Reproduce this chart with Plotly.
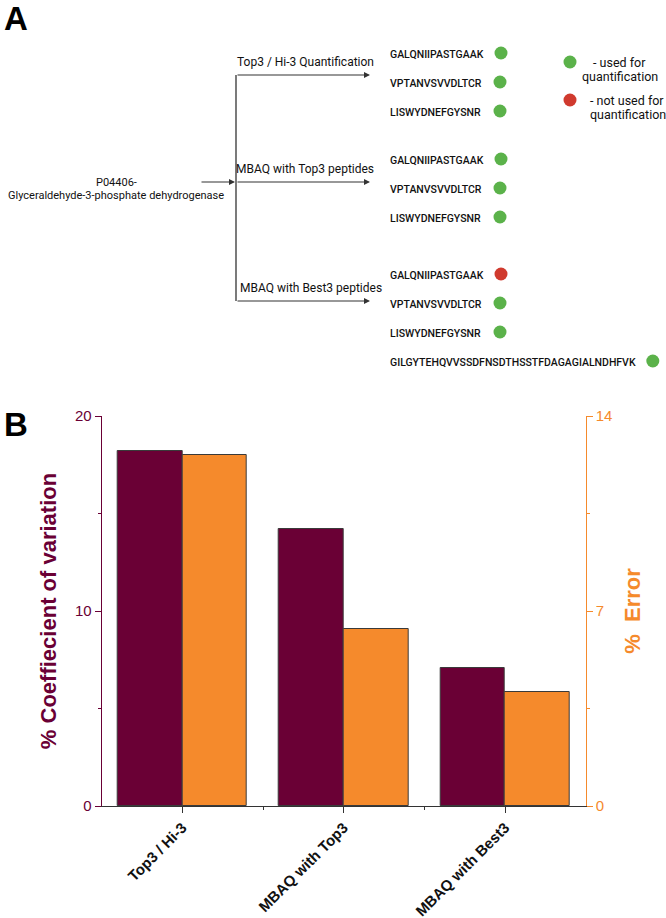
import plotly.graph_objects as go

# panel B data
categories = ["Top3 / Hi-3", "MBAQ with Top3", "MBAQ with Best3"]
cv_values = [18.2, 14.2, 7.1]
error_values = [12.6, 6.35, 4.1]

# panel A data
protein = ["P04406-", "Glyceraldehyde-3-phosphate dehydrogenase"]
methods = ["Top3 / Hi-3 Quantification", "MBAQ with Top3 peptides", "MBAQ with Best3 peptides"]
peptides = [
    ["GALQNIIPASTGAAK", "VPTANVSVVDLTCR", "LISWYDNEFGYSNR"],
    ["GALQNIIPASTGAAK", "VPTANVSVVDLTCR", "LISWYDNEFGYSNR"],
    ["GALQNIIPASTGAAK", "VPTANVSVVDLTCR", "LISWYDNEFGYSNR",
     "GILGYTEHQVVSSDFNSDTHSSTFDAGAGIALNDHFVK"],
]
used = [[1, 1, 1], [1, 1, 1], [0, 1, 1, 1]]
legend_labels = [["- used for", "quantification"], ["- not used for", "quantification"]]

MAROON = "#6A0035"
ORANGE = "#F58A2C"
GREEN = "#5BB24A"
RED = "#D03A2E"
LINE = "#333333"
W, H = 666, 918

fig = go.Figure()

# ---------- panel B: bars ----------
x_pos = list(range(len(categories)))
fig.add_trace(go.Bar(x=x_pos, y=cv_values, width=0.4, offset=-0.4,
                     marker=dict(color=MAROON, line=dict(color="#3a3a3a", width=1)),
                     yaxis="y"))
fig.add_trace(go.Bar(x=x_pos, y=error_values, width=0.4, offset=0,
                     marker=dict(color=ORANGE, line=dict(color="#3a3a3a", width=1)),
                     yaxis="y2"))

# ---------- panel A: schematic on a hidden pixel-scaled axis pair ----------
pep_x = 388
circle_col = 500
group_top = [53, 159, 274]
row_gap = 29
branch_y = [75, 182, 301]
label_y = [62, 169, 288]
trunk_x = 236

ann = []
shapes = []

def txt(x, y, s, size=12, anchor="center", weight="normal", family="Roboto", color="#111"):
    ann.append(dict(x=x, y=y, xref="x3", yref="y3", text=s, showarrow=False,
                    xanchor=anchor, yanchor="middle",
                    font=dict(size=size, family=family, color=color, weight=weight)))

def arrow(x0, y0, x1, y1):
    ann.append(dict(x=x1, y=y1, ax=x0, ay=y0, xref="x3", yref="y3", axref="x3", ayref="y3",
                    text="", showarrow=True, arrowhead=2, arrowsize=1, arrowwidth=1.2,
                    arrowcolor=LINE))

# protein name and arrow into trunk
txt(116, 182, protein[0], size=11)
txt(116, 195, protein[1], size=11)
arrow(200, branch_y[1], trunk_x - 1, branch_y[1])
shapes.append(dict(type="line", xref="x3", yref="y3", x0=trunk_x, x1=trunk_x,
                   y0=branch_y[0], y1=branch_y[-1], line=dict(color=LINE, width=1.3)))

cx, cy, cc = [], [], []
for i, m in enumerate(methods):
    arrow(trunk_x, branch_y[i], 370, branch_y[i])
    txt(trunk_x + 2 if i == 2 else 305, label_y[i], m, size=12,
        anchor="left" if i == 2 else "center")
    for j, p in enumerate(peptides[i]):
        y = group_top[i] + j * row_gap
        txt(pep_x, y + 1, p, size=10.5, anchor="left", weight=500)
        cx.append(max(circle_col, pep_x + len(p) * 6.6 + 14))
        cy.append(y)
        cc.append(GREEN if used[i][j] else RED)

# legend
leg_y = [62, 100]
for k, lines in enumerate(legend_labels):
    cx.append(570)
    cy.append(leg_y[k])
    cc.append(GREEN if k == 0 else RED)
    txt(619 + 8 * k, leg_y[k], lines[0], size=12.5)
    txt(620 + 8 * k, leg_y[k] + 14, lines[1], size=12.5)

fig.add_trace(go.Scatter(x=cx, y=cy, mode="markers", xaxis="x3", yaxis="y3",
                         marker=dict(size=13, color=cc, line=dict(width=0)),
                         hoverinfo="skip"))

# panel letters
txt(2, 18, "A", size=33, anchor="left", weight="bold", family="Liberation Sans", color="#000")
txt(2, 424, "B", size=33, anchor="left", weight="bold", family="Liberation Sans", color="#000")

# ---------- layout ----------
x0_px, x1_px = 101.7, 585.7
ytop_px, ybot_px = 416, 806
xdom = [x0_px / W, x1_px / W]
ydom = [1 - ybot_px / H, 1 - ytop_px / H]
tickfont = dict(family="Liberation Sans, Arial", size=15)

fig.update_layout(
    width=W, height=H,
    margin=dict(l=0, r=0, t=0, b=0),
    paper_bgcolor="white", plot_bgcolor="rgba(0,0,0,0)",
    showlegend=False,
    template="none",
    bargap=0,
    xaxis=dict(domain=xdom, range=[-0.5, len(categories) - 0.5],
               tickvals=x_pos, ticktext=categories, tickangle=-45,
               tickfont=dict(family="Liberation Sans, Arial", size=15, color="#111", weight="bold"),
               showline=True, linecolor="#333", linewidth=1.2,
               ticks="outside", ticklen=6, tickcolor="#333",
               minor=dict(tickvals=[0.5, 1.5], ticks="outside", ticklen=3, tickcolor="#333"),
               showgrid=False, zeroline=False, automargin=False, anchor="y"),
    yaxis=dict(domain=ydom, range=[0, 20], tickvals=[0, 10, 20],
               tickfont=dict(tickfont, color=MAROON),
               showline=True, linecolor=MAROON, linewidth=1,
               ticks="outside", ticklen=6, tickcolor=MAROON,
               minor=dict(dtick=5, ticks="outside", ticklen=3, tickcolor=MAROON),
               title=dict(text="% Coeffiecient of variation", standoff=12,
                          font=dict(family="Liberation Sans, Arial", size=22,
                                    color=MAROON, weight="bold")),
               showgrid=False, zeroline=False, automargin=False, anchor="x"),
    yaxis2=dict(domain=ydom, range=[0, 14], tickvals=[0, 7, 14], overlaying="y",
                side="right", anchor="x",
                tickfont=dict(tickfont, color=ORANGE),
                showline=True, linecolor=ORANGE, linewidth=1,
                ticks="outside", ticklen=6, tickcolor=ORANGE,
                minor=dict(dtick=3.5, ticks="outside", ticklen=3, tickcolor=ORANGE),
                title=dict(text="%  Error", standoff=13,
                           font=dict(family="Liberation Sans, Arial", size=22,
                                     color=ORANGE, weight="bold")),
                showgrid=False, zeroline=False, automargin=False),
    xaxis3=dict(domain=[0, 1], range=[0, W], visible=False, anchor="y3", fixedrange=True),
    yaxis3=dict(domain=[0, 1], range=[H, 0], visible=False, anchor="x3", fixedrange=True),
    annotations=ann,
    shapes=shapes,
)

# page body has a default 8px margin; drop it so the figure fills the window
fig.write_html("out.html", config={"displayModeBar": False},
               post_script="document.body.style.margin='0';")
